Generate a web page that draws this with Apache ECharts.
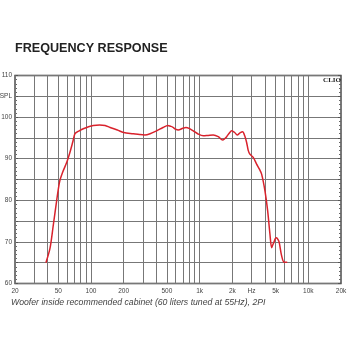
<!DOCTYPE html>
<html>
<head>
<meta charset="utf-8">
<script src="https://cdn.jsdelivr.net/npm/echarts@6/dist/echarts.min.js"></script>
<style>html,body{margin:0;padding:0;background:#fff}#c{width:350px;height:350px}</style>
</head>
<body>
<div id="c"></div>
<script>
const freqs = [38.5,42,45,48.4,51.5,55,60,64,68,71.3,78,85,95,105,120,135,150,175,200,245,280,314,350,402,460,510,540,565,600,636,700,748,800,874,960,1080,1200,1334,1484,1628,1700,1774,1880,1972,2100,2218,2350,2488,2600,2708,2800,2900,3114,3346,3550,3720,3990,4226,4436,4600,4700,4826,4970,5112,5250,5400,5680,6004,6400];
const spl = [65.0,68.5,74,80,84.5,86.8,89.2,91.5,94,96.0,96.7,97.2,97.7,98.0,98.1,98.0,97.5,96.9,96.3,96.0,95.8,95.7,96.0,96.7,97.5,98.0,97.8,97.6,97.1,96.9,97.3,97.5,97.3,96.7,96.0,95.5,95.6,95.7,95.3,94.5,94.8,95.3,96.2,96.7,96.3,95.7,96.2,96.5,95.5,93.9,92.0,91.1,90.3,88.7,87.5,86.3,82.3,77.5,71.9,68.6,69.2,69.9,70.8,71.0,70.6,69.9,66.7,65.1,65.1];
const gridFreqs = [20,30,40,50,60,70,80,90,100,200,300,400,500,600,700,800,900,1000,2000,3000,4000,5000,6000,7000,8000,9000,10000,20000];
const tickFreqs = [20,50,100,200,500,1000,2000,3000,5000,10000,20000];
const tickLabels = ['20','50','100','200','500','1k','2k','Hz','5k','10k','20k'];
const yLabelValues = [60,70,80,90,100,105,110];
const yLabelTexts = ['60','70','80','90','100','SPL','110'];
const titleText = 'FREQUENCY RESPONSE';
const captionText = 'Woofer inside recommended cabinet (60 liters tuned at 55Hz), 2PI';

const chart = echarts.init(document.getElementById('c'), null, {renderer: 'canvas'});
const font = 'Liberation Sans, Arial, sans-serif';
const markData = gridFreqs.map(f => {
  const i = tickFreqs.indexOf(f);
  return {xAxis: f, label: {show: i >= 0, formatter: i >= 0 ? tickLabels[i] : ''}};
});
chart.setOption({
  animation: false,
  backgroundColor: '#fff',
  title: [
    {text: titleText, left: 15, top: 42, padding: 0,
     textStyle: {fontFamily: font, fontSize: 12.6, fontWeight: 'bold', color: '#222'}},
    {text: captionText, left: 11, top: 298.5, padding: 0,
     textStyle: {fontFamily: font, fontSize: 8.7, fontStyle: 'italic', fontWeight: 'normal', color: '#444'}},
    {text: 'CLIO', right: 9, top: 76.5, padding: 0,
     textStyle: {fontFamily: 'Liberation Serif, DejaVu Serif, serif', fontSize: 7, fontWeight: 'bold', color: '#222'}}
  ],
  grid: {left: 15, right: 9, top: 75.5, bottom: 66.5, show: true, borderColor: '#333', borderWidth: 1.3,
         backgroundColor: 'transparent', containLabel: false, outerBoundsMode: 'none'},
  xAxis: {
    type: 'log', logBase: 10, min: 20, max: 20000,
    axisLine: {show: false}, axisTick: {show: false}, axisLabel: {show: false},
    splitLine: {show: false}, minorSplitLine: {show: false}
  },
  yAxis: [
    {type: 'value', min: 60, max: 110, interval: 5,
     axisLine: {show: false},
     axisTick: {show: true, inside: true, length: 3, lineStyle: {color: '#555'}},
     minorTick: {show: true, splitNumber: 5, length: 2, lineStyle: {color: '#666'}},
     axisLabel: {fontFamily: font, fontSize: 6.5, color: '#444', margin: 3,
       formatter: v => { const i = yLabelValues.indexOf(v); return i >= 0 ? yLabelTexts[i] : ''; }},
     splitLine: {show: true, lineStyle: {color: '#777', width: 1}}},
    {type: 'value', min: 60, max: 110, interval: 5, position: 'right',
     axisLine: {show: false},
     axisTick: {show: true, inside: true, length: 3, lineStyle: {color: '#555'}},
     minorTick: {show: true, splitNumber: 5, length: 2, lineStyle: {color: '#666'}},
     axisLabel: {show: false}, splitLine: {show: false}}
  ],
  series: [
    {type: 'line', data: [], z: 1, silent: true,
     markLine: {silent: true, symbol: ['none', 'none'], animation: false,
       lineStyle: {color: '#777', width: 1, type: 'solid'},
       label: {position: 'start', distance: 4, fontFamily: font, fontSize: 6.5, color: '#444'},
       emphasis: {disabled: true},
       data: markData}},
    {type: 'line', z: 5, data: freqs.map((f, i) => [f, spl[i]]),
     showSymbol: false, smooth: 0.3,
     lineStyle: {color: '#d9222c', width: 1.5}, itemStyle: {color: '#d9222c'}}
  ]
});
</script>
</body>
</html>
